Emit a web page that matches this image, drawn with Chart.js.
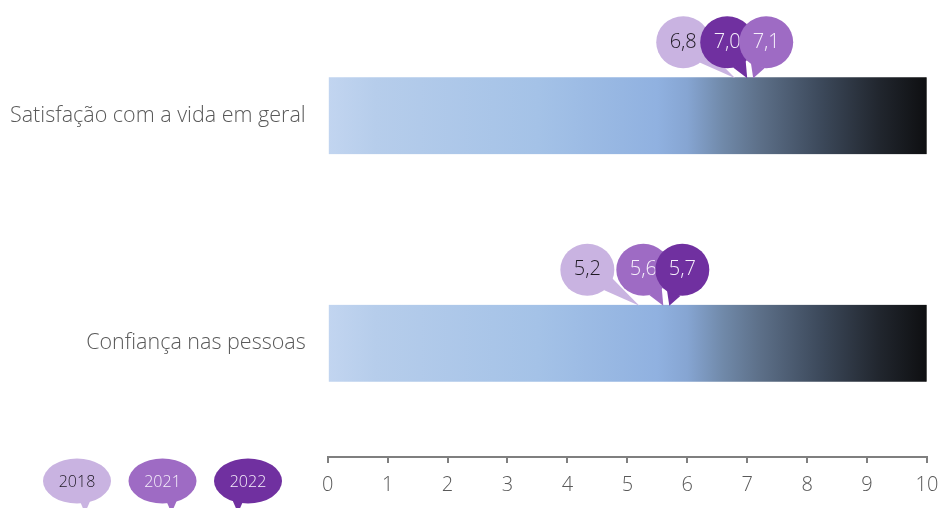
<!DOCTYPE html>
<html lang="pt">
<head>
<meta charset="utf-8">
<title>Satisfação e confiança</title>
<script src="https://cdn.jsdelivr.net/npm/chart.js@4/dist/chart.umd.min.js"></script>
<style>
  html, body { margin: 0; padding: 0; background: #fff; }
  canvas { display: block; }
</style>
</head>
<body>
<canvas id="grafico" width="938" height="508"></canvas>
<script>
// dados
const categorias = ['Satisfação com a vida em geral', 'Confiança nas pessoas'];
const anos = ['2018', '2021', '2022'];
const valores2018 = [6.8, 5.2];
const valores2021 = [7.1, 5.6];
const valores2022 = [7.0, 5.7];
const escalaTotal = [10, 10]; // barra de fundo = escala de 0 a 10
const ticksX = [0, 1, 2, 3, 4, 5, 6, 7, 8, 9, 10];

// cores
const coresAnos = ['#c9b3e1', '#9e6bc4', '#7030a0'];
const coresTexto = ['#1f1a24', '#f6f0fb', '#f6f0fb'];
const fonte = "'Open Sans', 'Noto Sans', sans-serif";
const cinza = '#595959';

const series = [valores2018, valores2021, valores2022];

// gradiente da barra (azul claro -> preto)
function gradienteBarra(context) {
    const chart = context.chart;
    if (!chart.chartArea) return '#9ab9e4';
    const x = chart.scales.x;
    const g = chart.ctx.createLinearGradient(x.getPixelForValue(0), 0, x.getPixelForValue(10), 0);
    g.addColorStop(0, '#c2d5f0');
    g.addColorStop(0.08, '#b6cdeb');
    g.addColorStop(0.35, '#a4c2e7');
    g.addColorStop(0.55, '#90b1e0');
    g.addColorStop(0.6, '#86a5d2');
    g.addColorStop(0.66, '#7089a9');
    g.addColorStop(0.72, '#5d7089');
    g.addColorStop(0.82, '#3d4a5c');
    g.addColorStop(0.92, '#21262e');
    g.addColorStop(1, '#0e0f11');
    return g;
}

// balão com bico apontando para (tx, ty)
function desenhaBalao(ctx, cx, cy, tx, ty, cor, corTexto, texto) {
    const r = 26;
    const ang = Math.atan2(ty - cy, tx - cx);
    ctx.save();
    ctx.fillStyle = cor;
    ctx.beginPath();
    ctx.moveTo(cx + r * Math.cos(ang - 0.28), cy + r * Math.sin(ang - 0.28));
    ctx.lineTo(tx, ty);
    ctx.lineTo(cx + r * Math.cos(ang + 0.28), cy + r * Math.sin(ang + 0.28));
    ctx.closePath();
    ctx.fill();
    ctx.beginPath();
    ctx.ellipse(cx, cy, r + 1, r, 0, 0, Math.PI * 2);
    ctx.fill();
    ctx.fillStyle = corTexto;
    ctx.font = '300 20px ' + fonte;
    ctx.textAlign = 'center';
    ctx.textBaseline = 'middle';
    ctx.fillText(texto, cx, cy);
    ctx.restore();
}

// balões por ordem de valor: o menor à esquerda, o maior por cima
const deslocX = [-52, -20, 13];

const baloes = {
    id: 'baloes',
    afterDatasetsDraw(chart) {
        const ctx = chart.ctx;
        const x = chart.scales.x;
        const barras = chart.getDatasetMeta(0).data;
        categorias.forEach((c, i) => {
            const topo = barras[i].y - barras[i].height / 2;
            const ordem = [0, 1, 2].sort((a, b) => series[a][i] - series[b][i]);
            ordem.forEach((s, k) => {
                const v = series[s][i];
                const px = x.getPixelForValue(v);
                desenhaBalao(ctx, px + deslocX[k], topo - 35, px, topo + 1,
                    coresAnos[s], coresTexto[s], v.toFixed(1).replace('.', ','));
            });
        });

        // legenda
        const bicos = [8, 9, -10];
        anos.forEach((ano, i) => {
            const cx = 77 + i * 85.5;
            const cy = 481;
            ctx.save();
            ctx.fillStyle = coresAnos[i];
            ctx.beginPath();
            ctx.moveTo(cx + bicos[i] - 6, cy + 18);
            ctx.lineTo(cx + bicos[i] + 6, cy + 18);
            ctx.lineTo(cx + bicos[i], cy + 32);
            ctx.closePath();
            ctx.fill();
            ctx.beginPath();
            ctx.ellipse(cx, cy, 34, 22.5, 0, 0, Math.PI * 2);
            ctx.fill();
            ctx.fillStyle = coresTexto[i];
            ctx.font = '300 16px ' + fonte;
            ctx.textAlign = 'center';
            ctx.textBaseline = 'middle';
            ctx.fillText(ano, cx, cy + 1);
            ctx.restore();
        });
    }
};

new Chart(document.getElementById('grafico'), {
    type: 'bar',
    data: {
        labels: categorias,
        datasets: [{
            data: escalaTotal,
            backgroundColor: gradienteBarra,
            borderColor: '#777777',
            borderWidth: { top: 0, left: 0, bottom: 0, right: 1 },
            borderSkipped: false,
            barThickness: 77
        }]
    },
    options: {
        indexAxis: 'y',
        responsive: false,
        animation: false,
        layout: { padding: { top: 2, right: 2, bottom: 1, left: 10 } },
        plugins: {
            legend: { display: false },
            tooltip: { enabled: false }
        },
        scales: {
            x: {
                min: 0,
                max: 10,
                afterBuildTicks(axis) {
                    axis.ticks = ticksX.map(v => ({ value: v }));
                },
                afterFit(axis) {
                    axis.paddingLeft = 0;
                    axis.paddingRight = 11;
                },
                border: { display: true, color: '#7f7f7f', width: 2 },
                grid: { drawOnChartArea: false, drawTicks: true, tickLength: 6, color: '#7f7f7f', lineWidth: 2 },
                ticks: { color: cinza, padding: 10, font: { family: fonte, size: 20, weight: '300' } }
            },
            y: {
                afterFit(axis) {
                    axis.paddingTop = 0;
                    axis.paddingBottom = 0;
                },
                border: { display: false },
                grid: { display: false, drawTicks: true, tickLength: 22 },
                ticks: { color: cinza, padding: 0, font: { family: fonte, size: 21.5, weight: '300' } }
            }
        }
    },
    plugins: [baloes]
});
</script>
</body>
</html>
